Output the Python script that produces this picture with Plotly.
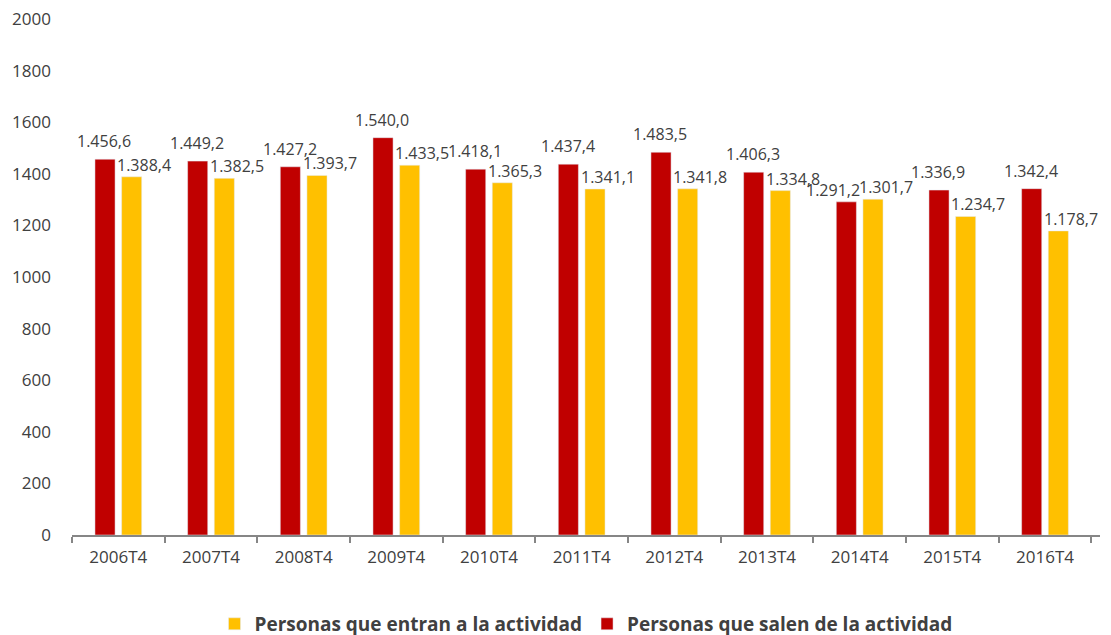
import plotly.graph_objs as go

periodos = ['2006T4', '2007T4', '2008T4', '2009T4', '2010T4', '2011T4',
            '2012T4', '2013T4', '2014T4', '2015T4', '2016T4']
salen = [1456.6, 1449.2, 1427.2, 1540.0, 1418.1, 1437.4, 1483.5, 1406.3, 1291.2, 1336.9, 1342.4]
entran = [1388.4, 1382.5, 1393.7, 1433.5, 1365.3, 1341.1, 1341.8, 1334.8, 1301.7, 1234.7, 1178.7]

ROJO = '#C00000'
AMARILLO = '#FFC000'
TEXTO = '#404040'
FUENTE = 'Open Sans, sans-serif'


def fmt(v):
    # formato español: punto de miles, coma decimal
    s = f'{v:,.1f}'
    return s.replace(',', 'X').replace('.', ',').replace('X', '.')


fig = go.Figure()
fig.add_trace(go.Bar(
    x=periodos, y=salen,
    name='Personas que salen de la actividad',
    marker=dict(color=ROJO),
))
fig.add_trace(go.Bar(
    x=periodos, y=entran,
    name='Personas que entran a la actividad',
    marker=dict(color=AMARILLO),
))

for i, p in enumerate(periodos):
    # si las dos etiquetas quedan a la misma altura, la roja se aparta a la izquierda
    if salen[i] - entran[i] > 20:
        dx, dy = -14, 5
    else:
        dx, dy = -27, -1
    fig.add_annotation(
        x=p, y=salen[i], text=fmt(salen[i]),
        xshift=dx, yshift=dy, yanchor='bottom', showarrow=False,
        font=dict(size=16, color=TEXTO, family=FUENTE),
    )
    fig.add_annotation(
        x=p, y=entran[i], text=fmt(entran[i]),
        xshift=26, yshift=-1, yanchor='bottom', showarrow=False,
        font=dict(size=16, color=TEXTO, family=FUENTE),
    )

# la página añade 8px de margen al cuerpo, se compensa aquí
fig.update_layout(
    width=1111, height=635,
    margin=dict(l=64, r=19, t=11, b=108, autoexpand=False),
    plot_bgcolor='white',
    paper_bgcolor='white',
    barmode='group',
    bargap=0.425,
    bargroupgap=0.245,
    font=dict(family=FUENTE, size=16, color=TEXTO),
    showlegend=True,
    legend=dict(
        orientation='h',
        x=0.5, xanchor='center',
        yref='container', y=0.03, yanchor='middle',
        traceorder='reversed',
        font=dict(size=19, color=TEXTO, family=FUENTE, weight='bold'),
        itemwidth=30,
    ),
    xaxis=dict(
        type='category',
        showline=True, linecolor='#868686', linewidth=1.5,
        ticks='outside', ticklen=6, tickcolor='#868686', tickwidth=1.5,
        tickson='boundaries',
        showgrid=False,
        ticklabelstandoff=6,
        tickfont=dict(size=17, color=TEXTO),
    ),
    yaxis=dict(
        range=[0, 2000], dtick=200,
        showgrid=False, zeroline=False, showline=False,
        ticklabelstandoff=20,
        ticklabeloverflow='allow',
        tickfont=dict(size=17, color=TEXTO),
    ),
)

fig.write_html('out.html')
